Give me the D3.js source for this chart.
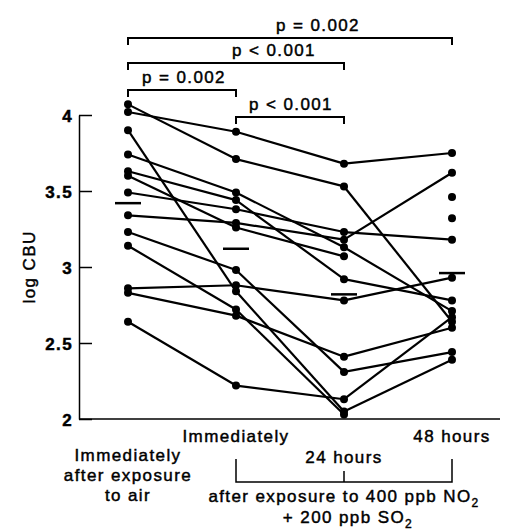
<!DOCTYPE html>
<html>
<head>
<meta charset="utf-8">
<script src="https://cdn.jsdelivr.net/npm/d3@7"></script>
<style>
  body { margin: 0; background: #fff; }
  svg text { font-family: "Liberation Sans", Arial, sans-serif; font-size: 17px; letter-spacing: 1.4px; fill: #000; stroke: #000; stroke-width: 0.45px; }
</style>
</head>
<body>
<div id="chart"></div>
<script>
const WIDTH = 507;
const HEIGHT = 530;

// one entry per subject, same order in every array
const groups = ["air", "immediately", "24h", "48h"];
const air = [4.07, 4.02, 3.9, 3.74, 3.63, 3.6, 3.49, 3.34, 3.23, 3.14, 2.86, 2.83, 2.64];
const immediately = [3.71, 3.89, 2.84, 3.49, 3.44, 3.26, 3.38, 3.29, 2.98, 2.72, 2.88, 2.68, 2.22];
const hours24 = [3.53, 3.68, 2.05, 3.13, 2.92, 3.07, 3.23, 3.18, 2.31, 2.03, 2.78, 2.41, 2.13];
const hours48 = [2.64, 3.75, 2.39, 2.71, 2.78, 3.46, 3.18, 3.62, 2.44, 3.32, 2.93, 2.6, 2.67];
// subjects whose 24 h -> 48 h segment is not drawn
const unlinked48 = [5, 9];
const means = [3.42, 3.12, 2.82, 2.96];
const yTicks = [2, 2.5, 3, 3.5, 4];

const pairs = [[0, 3], [0, 2], [0, 1], [1, 2]];
const pLabels = ["p = 0.002", "p < 0.001", "p = 0.002", "p < 0.001"];

const svg = d3
  .select("#chart")
  .append("svg")
  .attr("width", WIDTH)
  .attr("height", HEIGHT);

const xScale = d3.scalePoint().domain(groups).range([128, 452]);
const yScale = d3.scaleLinear().domain([2, 4]).range([419, 115]);

function addAxisY() {
  const yAxis = d3
    .axisLeft(yScale)
    .tickValues(yTicks)
    .tickSize(-13)
    .tickSizeOuter(0)
    .tickPadding(6)
    .tickFormat(d3.format(""));
  const g = svg
    .append("g")
    .attr("transform", "translate(79, 0)")
    .call(yAxis);
  g.select(".domain").attr("stroke-width", 1.5);
  g.selectAll(".tick line").attr("stroke-width", 1.5);
  g.selectAll(".tick text")
    .attr("font-size", null)
    .attr("font-family", null)
    .style("font-weight", "bold")
    .attr("dy", "0.36em");

  svg
    .append("line")
    .attr("x1", 79)
    .attr("x2", 500)
    .attr("y1", yScale(2))
    .attr("y2", yScale(2))
    .attr("stroke", "#000")
    .attr("stroke-width", 1.5);

  svg
    .append("text")
    .attr("transform", "translate(35, 267) rotate(-90)")
    .attr("text-anchor", "middle")
    .text("log CBU");
}

function addSubjects() {
  const columns = [air, immediately, hours24, hours48];
  const subjects = air.map((d, i) => columns.map(c => c[i]));

  const segments = [];
  subjects.forEach((vals, i) => {
    for (let k = 0; k < 3; k++) {
      if (k === 2 && unlinked48.includes(i)) continue;
      segments.push([[groups[k], vals[k]], [groups[k + 1], vals[k + 1]]]);
    }
  });

  svg
    .append("g")
    .selectAll("line")
    .data(segments)
    .enter()
    .append("line")
    .attr("x1", d => xScale(d[0][0]))
    .attr("y1", d => yScale(d[0][1]))
    .attr("x2", d => xScale(d[1][0]))
    .attr("y2", d => yScale(d[1][1]))
    .attr("stroke", "#000")
    .attr("stroke-width", 2.2);

  const points = [];
  columns.forEach((c, k) => c.forEach(v => points.push([groups[k], v])));

  svg
    .append("g")
    .selectAll("circle")
    .data(points)
    .enter()
    .append("circle")
    .attr("cx", d => xScale(d[0]))
    .attr("cy", d => yScale(d[1]))
    .attr("r", 4)
    .attr("fill", "#000");

  svg
    .append("g")
    .selectAll("line")
    .data(means)
    .enter()
    .append("line")
    .attr("x1", (d, i) => xScale(groups[i]) - 13)
    .attr("x2", (d, i) => xScale(groups[i]) + 13)
    .attr("y1", d => yScale(d))
    .attr("y2", d => yScale(d))
    .attr("stroke", "#000")
    .attr("stroke-width", 2.5);
}

function addBrackets() {
  const levels = [38, 63, 90, 117];
  const g = svg.append("g");
  pairs.forEach((p, i) => {
    const x1 = xScale(groups[p[0]]);
    const x2 = xScale(groups[p[1]]);
    const y = levels[i];
    g.append("path")
      .attr("d", `M${x1},${y + 7}V${y}H${x2}V${y + 7}`)
      .attr("fill", "none")
      .attr("stroke", "#000")
      .attr("stroke-width", 2);
  });
  g.selectAll("text")
    .data(pLabels)
    .enter()
    .append("text")
    .attr("x", (d, i) => [318, 274, 184, 291][i])
    .attr("y", (d, i) => levels[i] - 7)
    .attr("text-anchor", "middle")
    .text(d => d);
}

function addLabels() {
  const label = (x, y, t) =>
    svg
      .append("text")
      .attr("x", x)
      .attr("y", y)
      .attr("text-anchor", "middle")
      .text(t);

  label(xScale("immediately"), 442, "Immediately");
  label(xScale("48h"), 442, "48 hours");
  label(xScale("24h"), 463, "24 hours");
  label(xScale("air"), 461, "Immediately");
  label(xScale("air"), 481, "after exposure");
  label(xScale("air"), 501, "to air");

  const xa = xScale("immediately");
  const xb = xScale("24h");
  const xc = xScale("48h");
  svg
    .append("path")
    .attr("d", `M${xa},459V482H${xc}V459M${xb},482V471`)
    .attr("fill", "none")
    .attr("stroke", "#000")
    .attr("stroke-width", 1.5);

  const t1 = label(xb, 502, "after exposure to 400 ppb NO");
  t1.append("tspan").attr("dy", 5).style("font-size", "12px").text("2");

  const t2 = label(xb + 4, 523, "+ 200 ppb SO");
  t2.append("tspan").attr("dy", 5).style("font-size", "12px").text("2");
}

addAxisY();
addSubjects();
addBrackets();
addLabels();
</script>
</body>
</html>
